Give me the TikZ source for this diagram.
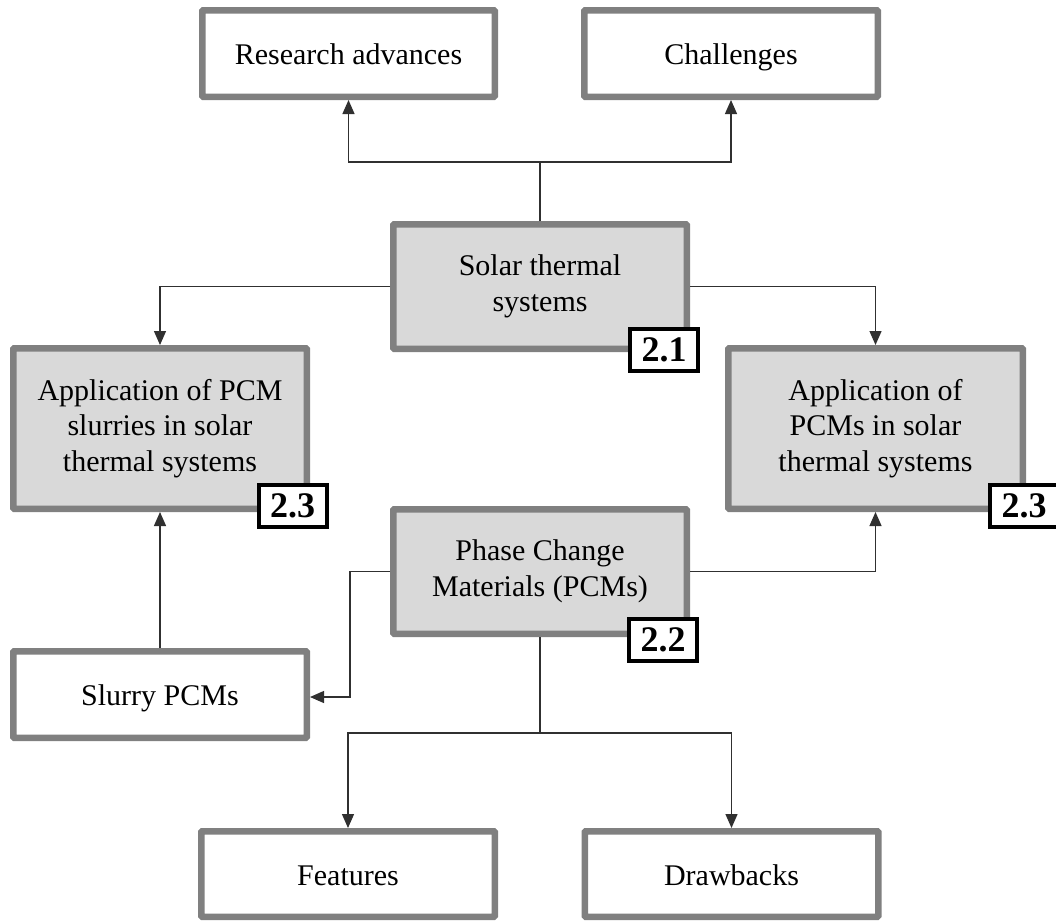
\documentclass[tikz,border=0pt]{standalone}
\usepackage{fontspec}
\setmainfont{Liberation Serif}
\usetikzlibrary{arrows.meta}
\definecolor{boxgray}{HTML}{808080}
\definecolor{fillgray}{HTML}{D9D9D9}
\definecolor{linegray}{HTML}{303030}
\begin{document}
\begin{tikzpicture}[x=1pt,y=-1pt,
  box/.style={draw=boxgray, line width=6.5pt, rounded corners=1pt, fill=white, align=center,
    font=\fontsize{30}{35.5}\selectfont, text=black, inner sep=0pt},
  shaded/.style={box, fill=fillgray},
  single/.style={draw=boxgray, line width=6.5pt, rounded corners=1pt, fill=white,
    font=\fontsize{30}{35.5}\selectfont, text=black, inner sep=0pt,
    text height=25pt, text depth=3pt},
  tag/.style={draw=black, line width=4pt, fill=white, inner sep=0pt,
    minimum width=68pt, minimum height=42pt, font=\fontsize{36}{38}\selectfont\bfseries},
  conn/.style={draw=linegray, line width=1.3pt},
  arr/.style={conn, -{Triangle[length=14pt,width=12pt]}}]
\useasboundingbox (0,0) rectangle (1056,921);
\fill[white] (0,0) rectangle (1056,921);
% nodes
\node[single, minimum width=292.5pt, minimum height=86.5pt] (RA) at (348.5,53.5) {Research advances};
\node[single, minimum width=293.5pt, minimum height=86.5pt] (CH) at (731,53.5) {Challenges};
\node[shaded, minimum width=293.5pt, minimum height=124.5pt] (ST) at (540,286.5) {Solar thermal\\systems};
\node[shaded, minimum width=293.5pt, minimum height=160.5pt] (AL) at (160,428.5) {Application of PCM\\slurries in solar\\thermal systems};
\node[shaded, minimum width=294.5pt, minimum height=160.5pt] (AR) at (875.5,428.5) {Application of\\PCMs in solar\\thermal systems};
\node[shaded, minimum width=293.5pt, minimum height=124.5pt] (PCM) at (540,571.5) {Phase Change\\Materials (PCMs)};
\node[single, minimum width=293.5pt, minimum height=86.5pt] (SL) at (160,694.5) {Slurry PCMs};
\node[single, minimum width=293.5pt, minimum height=85.5pt] (FE) at (348,874) {Features};
\node[single, minimum width=293.5pt, minimum height=85.5pt] (DR) at (731.5,874) {Drawbacks};
% tags
\node[tag] (T21) at (664,350) {2.1};
\node[tag] (T23a) at (292.5,506) {2.3};
\node[tag] (T23b) at (1024,506) {2.3};
\node[tag] (T22) at (663,639.5) {2.2};
% junctions
\coordinate (J1) at (540,162);
\coordinate (J2) at (540,733);
\coordinate (J3) at (350,697);
% connectors
\draw[conn] (ST.north) -- (J1);
\draw[arr] (J1) -| (RA.south);
\draw[arr] (J1) -| (CH.south);
\draw[arr] (ST.west) -| (AL.north);
\draw[arr] (ST.east) -| (AR.north);
\draw[arr] (PCM.west) -| (J3) -- (SL.east |- J3);
\draw[arr] (PCM.east) -| (AR.south);
\draw[arr] (SL.north) -- (AL.south);
\draw[conn] (PCM.south) -- (J2);
\draw[arr] (J2) -| (FE.north);
\draw[arr] (J2) -| (DR.north);
\end{tikzpicture}
\end{document}
